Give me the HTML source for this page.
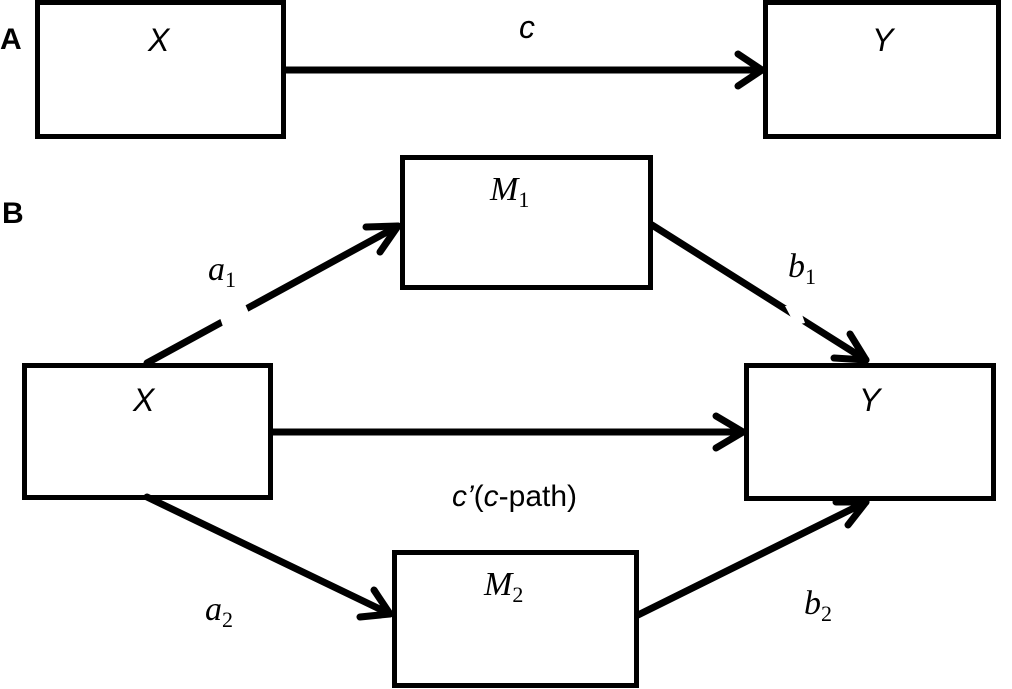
<!DOCTYPE html>
<html><head><style>html,body{margin:0;padding:0;background:#fff;}</style></head><body>
<svg width="1012" height="689" viewBox="0 0 1012 689" xmlns="http://www.w3.org/2000/svg" style="display:block">
<g fill="none" stroke="#000" stroke-width="5">
<rect x="37.5" y="2.5" width="246" height="134"/>
<rect x="765.5" y="2.5" width="233" height="134"/>
<rect x="402.5" y="157.5" width="248" height="130"/>
<rect x="24.5" y="365.5" width="246" height="132"/>
<rect x="746.5" y="365.5" width="247" height="133"/>
<rect x="394.5" y="552.5" width="242" height="133"/>
</g>
<g fill="none" stroke="#000" stroke-width="7" stroke-linecap="round" stroke-linejoin="round">
<line x1="286" y1="70" x2="762" y2="70"/>
<polyline points="738,54 762,70 738,86"/>
<line x1="147" y1="363" x2="398" y2="226"/>
<polyline points="366,227 398,226 380,252"/>
<line x1="652" y1="225" x2="866" y2="360"/>
<polyline points="850,334 866,360 834,358"/>
<line x1="272" y1="432" x2="743" y2="432"/>
<polyline points="716,416 743,432 716,448"/>
<line x1="147" y1="497" x2="390" y2="614"/>
<polyline points="374,590 390,614 360,617"/>
<line x1="638" y1="615" x2="866" y2="502"/>
<polyline points="836,502 866,502 848,525"/>
</g>
<g fill="#fff">
<polygon points="220,318 245,304 252,320 226,335"/>
<polygon points="785,306 799,306 805,323 795,325"/>
</g>
<g font-family="Liberation Sans, sans-serif" font-size="32" fill="#000">
<text x="0" y="49" font-weight="bold" font-size="30">A</text>
<text x="2" y="223" font-weight="bold" font-size="30">B</text>
<text x="148" y="51" font-style="italic">X</text>
<text x="519" y="38" font-style="italic">c</text>
<text x="872" y="51" font-style="italic">Y</text>
<text x="133" y="411" font-style="italic">X</text>
<text x="859" y="411" font-style="italic">Y</text>
<text x="452" y="506" font-size="30"><tspan font-style="italic">c’</tspan>(<tspan font-style="italic">c</tspan>-path)</text>
</g>
<g font-family="Liberation Serif, serif" font-size="34" font-style="italic" fill="#000">
<text x="490" y="200">M<tspan font-size="22" font-style="normal" dy="7">1</tspan></text>
<text x="484" y="595">M<tspan font-size="22" font-style="normal" dy="7">2</tspan></text>
<text x="208" y="280">a<tspan font-size="22" font-style="normal" dy="7">1</tspan></text>
<text x="205" y="620">a<tspan font-size="22" font-style="normal" dy="7">2</tspan></text>
<text x="788" y="277">b<tspan font-size="22" font-style="normal" dy="7">1</tspan></text>
<text x="804" y="614">b<tspan font-size="22" font-style="normal" dy="7">2</tspan></text>
</g>
</svg>
</body></html>
